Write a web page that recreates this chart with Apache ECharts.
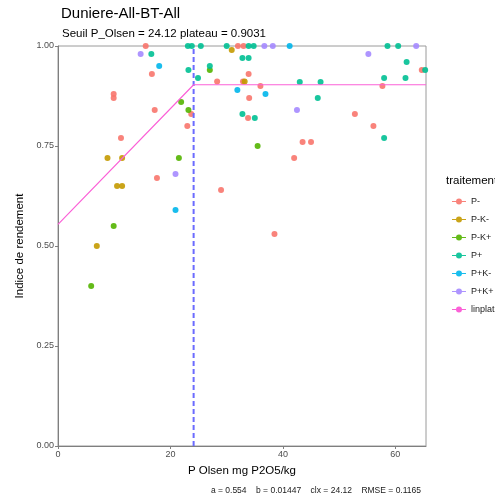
<!DOCTYPE html>
<html>
<head>
<meta charset="utf-8">
<script src="https://cdn.jsdelivr.net/npm/echarts@6/dist/echarts.min.js"></script>
<style>
  html, body { margin: 0; padding: 0; background: #fff; }
  #chart { width: 495px; height: 499px; }
</style>
</head>
<body>
<div id="chart"></div>
<script>
// données : [P Olsen, indice]
const pMoins = [[15.6, 1.0], [32.0, 1.0], [33.0, 1.0], [16.7, 0.93], [28.3, 0.911], [33.9, 0.93], [32.9, 0.911],
  [36.0, 0.90], [34.0, 0.87], [64.7, 0.94], [57.7, 0.90], [33.8, 0.82], [52.8, 0.83], [56.1, 0.80],
  [43.5, 0.76], [45.0, 0.76], [42.0, 0.72], [38.5, 0.53], [9.9, 0.88], [9.9, 0.87], [17.2, 0.84],
  [23.7, 0.83], [23.0, 0.80], [11.2, 0.77], [17.6, 0.67], [29.0, 0.64]];
const pMoinsKMoins = [[30.9, 0.99], [33.2, 0.911], [8.8, 0.72], [11.4, 0.72], [10.5, 0.65], [11.4, 0.65], [6.9, 0.50]];
const pMoinsKPlus = [[27.0, 0.94], [21.9, 0.86], [23.2, 0.84], [35.5, 0.75], [21.5, 0.72], [9.9, 0.55], [5.9, 0.40]];
const pPlus = [[23.1, 1.0], [23.8, 1.0], [25.4, 1.0], [30.0, 1.0], [33.9, 1.0], [34.8, 1.0], [58.6, 1.0], [60.5, 1.0],
  [16.6, 0.98], [23.2, 0.94], [27.0, 0.95], [24.9, 0.92], [32.8, 0.97], [33.9, 0.97], [62.0, 0.96],
  [65.3, 0.94], [58.0, 0.92], [61.8, 0.92], [43.0, 0.91], [46.7, 0.91], [46.2, 0.87], [32.8, 0.83],
  [35.0, 0.82], [58.0, 0.77]];
const pPlusKMoins = [[41.2, 1.0], [18.0, 0.95], [31.9, 0.89], [36.9, 0.88], [20.9, 0.59]];
const pPlusKPlus = [[36.7, 1.0], [38.2, 1.0], [63.7, 1.0], [14.7, 0.98], [55.2, 0.98], [42.5, 0.84], [20.9, 0.68]];

// modèle linéaire-plateau
const a = 0.554;
const b = 0.01447;
const clx = 24.12;
const plateau = 0.9031;
const xMax = 65.45;
const linplat = [[0, a], [clx, plateau], [xMax, plateau]];
const seuil = [[clx, 0], [clx, 1]];

const xTicks = [0, 20, 40, 60];
const yTicks = [0, 0.25, 0.5, 0.75, 1];

const noms = ['P-', 'P-K-', 'P-K+', 'P+', 'P+K-', 'P+K+', 'linplat'];
const couleurs = ['#F8766D', '#C49A00', '#53B400', '#00C094', '#00B6EB', '#A58AFF', '#FB61D7'];
const groupes = [pMoins, pMoinsKMoins, pMoinsKPlus, pPlus, pPlusKMoins, pPlusKPlus];

const police = 'Liberation Sans, Arial, sans-serif';
// icône de légende : trait + point
const icone = 'path://M0,2.6 L14,2.6 L14,3.4 L0,3.4 Z M7,0 A3,3 0 1,1 6.99,0 Z';

const series = groupes.map((d, i) => ({
  name: noms[i],
  type: 'scatter',
  data: d,
  symbolSize: 6,
  clip: true,
  itemStyle: { color: couleurs[i], opacity: 0.9 }
}));
series.push({
  name: 'seuil',
  type: 'line',
  data: seuil,
  symbol: 'none',
  silent: true,
  lineStyle: { color: '#6b6bff', width: 2, type: [5, 3] }
});
series.push({
  name: 'linplat',
  type: 'line',
  data: linplat,
  symbol: 'none',
  lineStyle: { color: couleurs[6], width: 1.2 },
  itemStyle: { color: couleurs[6] }
});

const chart = echarts.init(document.getElementById('chart'));
chart.setOption({
  animation: false,
  textStyle: { fontFamily: police },
  grid: { left: 58, right: 69, top: 46, bottom: 53, show: true, borderColor: '#9a9a9a', borderWidth: 1 },
  title: [
    { text: 'Duniere-All-BT-All', left: 56, top: 1, textStyle: { fontSize: 15, fontWeight: 'normal', color: '#000', fontFamily: police } },
    { text: 'Seuil P_Olsen = 24.12 plateau = 0.9031', left: 57, top: 23, textStyle: { fontSize: 11.5, fontWeight: 'normal', color: '#000', fontFamily: police } },
    { text: 'a = 0.554    b = 0.01447    clx = 24.12    RMSE = 0.1165', right: 69, top: 481, textStyle: { fontSize: 8.5, fontWeight: 'normal', color: '#1a1a1a', fontFamily: police } }
  ],
  legend: {
    data: noms.map((n) => ({ name: n, icon: icone })),
    orient: 'vertical',
    left: 447,
    top: 192,
    itemWidth: 14,
    itemHeight: 6,
    itemGap: 9,
    textStyle: { fontSize: 9, color: '#1a1a1a', fontFamily: police }
  },
  graphic: [
    { type: 'text', left: 446, top: 175, style: { text: 'traitement', fontSize: 11.5, fill: '#000', fontFamily: police } }
  ],
  xAxis: {
    type: 'value',
    min: 0,
    max: xMax,
    interval: 20,
    name: 'P Olsen mg P2O5/kg',
    nameLocation: 'middle',
    nameGap: 19,
    nameTextStyle: { fontSize: 11.5, color: '#000' },
    axisLine: { onZero: false, lineStyle: { color: '#7f7f7f' } },
    axisTick: { show: true, length: 3, lineStyle: { color: '#7f7f7f' } },
    axisLabel: { fontSize: 9, color: '#4d4d4d', margin: 4, showMaxLabel: false, formatter: (v) => xTicks.includes(v) ? String(v) : '' },
    splitLine: { show: false }
  },
  yAxis: {
    type: 'value',
    min: 0,
    max: 1,
    interval: 0.25,
    name: 'Indice de rendement',
    nameLocation: 'middle',
    nameGap: 29,
    nameTextStyle: { fontSize: 11.5, color: '#000' },
    axisLine: { show: true, lineStyle: { color: '#7f7f7f' } },
    axisTick: { show: true, length: 3, lineStyle: { color: '#7f7f7f' } },
    axisLabel: { fontSize: 9, color: '#4d4d4d', margin: 4, formatter: (v) => yTicks.includes(v) ? v.toFixed(2) : '' },
    splitLine: { show: false }
  },
  series: series
});
</script>
</body>
</html>
